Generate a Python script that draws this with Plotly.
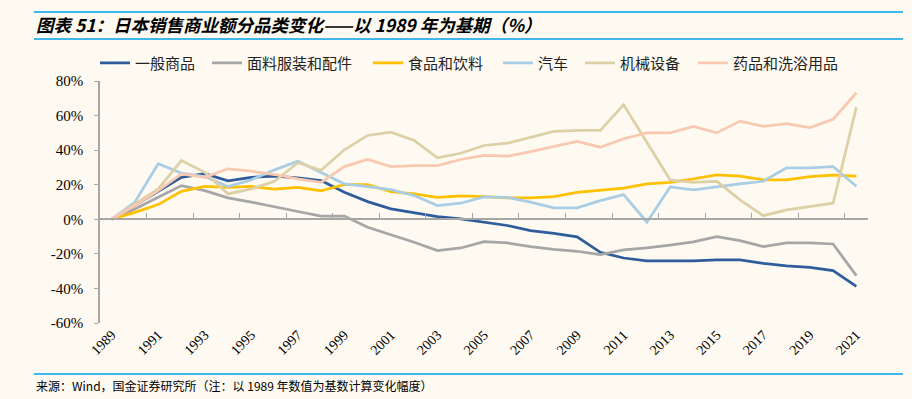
import plotly.graph_objects as go

years = list(range(1989, 2022))

general = [0, 8, 16, 24.3, 26.4, 22.2, 24.3, 25, 24, 22.4, 15.6, 10.2, 6, 4, 1.6, 0.2, -1.5,
           -3.6, -6.5, -8.1, -10.2, -19.1, -22.4, -24.1, -24.1, -24.1, -23.5, -23.5, -25.5,
           -27, -27.8, -29.7, -38.8]
apparel = [0, 6, 12.7, 19.5, 16.6, 12.4, 9.9, 7, 4.5, 1.9, 1.9, -4.6, -8.9, -13.3, -18.1,
           -16.6, -12.9, -13.7, -15.8, -17.4, -18.5, -20.5, -17.7, -16.6, -15, -13.1, -10,
           -12.3, -15.8, -13.7, -13.7, -14.3, -32.6]
food = [0, 4, 8.5, 16.2, 19, 18.5, 19, 17.4, 18.5, 16.4, 20.1, 20.1, 16, 14.7, 12.7, 13.5,
        13.1, 12.4, 12.4, 13.1, 15.6, 16.6, 18, 20.5, 21.4, 23.4, 25.7, 24.9, 22.8, 22.8,
        24.7, 25.5, 24.9]
auto = [0, 9.9, 32.1, 26.7, 24.7, 18.9, 22.8, 28.6, 33.6, 27.2, 20.5, 18.9, 17.2, 13.7, 7.9,
        9.3, 12.9, 12.7, 9.9, 6.6, 6.6, 10.8, 14.3, -1.7, 18.7, 17, 18.9, 20.5, 22, 29.8,
        29.8, 30.5, 19.1]
machinery = [0, 9, 17.6, 34, 27.2, 14.7, 17.6, 22, 32.7, 28.4, 40.2, 48.5, 50.4, 45.6, 35.6,
             38.2, 42.7, 44, 47.5, 50.8, 51.4, 51.4, 66.3, 44.6, 22.8, 21.3, 22, 11.2, 2.1,
             5.4, 7.4, 9.3, 64.9]
pharma = [0, 8, 16.6, 26.3, 24.3, 29.2, 27.8, 25.9, 23.4, 21.4, 30.5, 34.6, 30.5, 31.1, 31.1,
          34.6, 36.9, 36.5, 39.2, 42.1, 45, 41.7, 46.6, 50, 50, 53.7, 50, 56.8, 53.7, 55.3,
          53, 57.8, 73.2]

series_names = ["一般商品", "面料服装和配件", "食品和饮料", "汽车", "机械设备", "药品和洗浴用品"]
series_values = [general, apparel, food, auto, machinery, pharma]
series_colors = ["#2F5C9B", "#A6A6A6", "#FFC000", "#A9CDE5", "#DDD0A6", "#F8C9B0"]

x_tick_vals = list(range(1989, 2022, 2))
x_tick_text = [str(v) for v in x_tick_vals]
y_tick_vals = [-60, -40, -20, 0, 20, 40, 60, 80]
y_tick_text = ["-60%", "-40%", "-20%", "0%", "20%", "40%", "60%", "80%"]

title_text = "图表 51：日本销售商业额分品类变化——以 1989 年为基期（%）"
source_text = "来源：Wind，国金证券研究所（注：以 1989 年数值为基数计算变化幅度）"

W, H = 912, 399
ML, MR, MT, MB = 100, 44, 81, 76
PW, PH = W - ML - MR, H - MT - MB


def px_x(p):
    return (p - ML) / PW


def px_y(p):
    return (H - MB - p) / PH


bg = "#FEFAF1"
serif = "Liberation Serif, Times New Roman, serif"
cjk = "Noto Sans CJK SC"

# legend entry left edges (pixels) - each entry gets its own legend box
legend_left = [95, 207, 368, 498, 580, 693]
legend_ids = ["legend", "legend2", "legend3", "legend4", "legend5", "legend6"]

fig = go.Figure()
for name, vals, col, lid in zip(series_names, series_values, series_colors, legend_ids):
    fig.add_trace(go.Scatter(x=years, y=vals, name=name, mode="lines", legend=lid,
                             line=dict(color=col, width=2.75)))

# helper axis carrying the baseline at y = 0 with boundary tick marks
fig.add_trace(go.Scatter(x=[years[0]], y=[None], xaxis="x2", showlegend=False,
                         hoverinfo="skip", mode="lines"))

legend_layouts = {}
for lid, lx in zip(legend_ids, legend_left):
    legend_layouts[lid] = dict(orientation="h", x=px_x(lx), xanchor="left", y=px_y(63),
                               yanchor="middle", font=dict(family=cjk, size=15, color="#222222"),
                               bgcolor="rgba(0,0,0,0)", itemwidth=30)

fig.update_layout(
    width=W, height=H,
    margin=dict(l=ML, r=MR, t=MT, b=MB),
    paper_bgcolor=bg, plot_bgcolor=bg,
    showlegend=True,
    **legend_layouts,
    xaxis=dict(range=[1988.5, 2021.5], tickmode="array", tickvals=x_tick_vals,
               ticktext=x_tick_text, tickangle=-45, showline=False, ticks="",
               showgrid=False, zeroline=False,
               tickfont=dict(family=serif, size=14, color="#000000")),
    xaxis2=dict(range=[1988.5, 2021.5], overlaying="x", anchor="free",
                position=60 / 140, side="bottom", showline=True, linecolor="#A6A6A6",
                linewidth=2, ticks="inside", ticklen=5, tickwidth=1.2, tickcolor="#A6A6A6",
                tickmode="array", tickvals=[1988.5 + 2 * k for k in range(1, 17)],
                showticklabels=False, showgrid=False, zeroline=False),
    yaxis=dict(range=[-60, 80], tickmode="array", tickvals=y_tick_vals,
               ticktext=y_tick_text, showline=True, linecolor="#A6A6A6", linewidth=1.5,
               ticks="outside", ticklen=4, tickcolor="#A6A6A6", tickwidth=1.2,
               showgrid=False, zeroline=False, ticklabelstandoff=8,
               tickfont=dict(family=serif, size=15, color="#000000")),
    annotations=[
        dict(text="<b><i>" + title_text + "</i></b>", xref="paper", yref="paper",
             x=px_x(34), y=px_y(24), xanchor="left", yanchor="middle", showarrow=False,
             font=dict(family=cjk, size=17.5, color="#000000")),
        dict(text=source_text, xref="paper", yref="paper",
             x=px_x(34), y=px_y(385), xanchor="left", yanchor="middle", showarrow=False,
             font=dict(family=cjk, size=12, color="#000000")),
    ],
    shapes=[
        dict(type="line", xref="paper", yref="paper", x0=px_x(34), x1=px_x(903),
             y0=px_y(12), y1=px_y(12), line=dict(color="#00A0E9", width=1.5)),
        dict(type="line", xref="paper", yref="paper", x0=px_x(34), x1=px_x(903),
             y0=px_y(39), y1=px_y(39), line=dict(color="#00A0E9", width=1.5)),
        dict(type="line", xref="paper", yref="paper", x0=px_x(34), x1=px_x(903),
             y0=px_y(374), y1=px_y(374), line=dict(color="#00A0E9", width=1.5)),
    ],
)

fig.write_html("out.html", config={"displayModeBar": False},
               post_script="document.body.style.margin='0';document.body.style.background='" + bg + "';")
